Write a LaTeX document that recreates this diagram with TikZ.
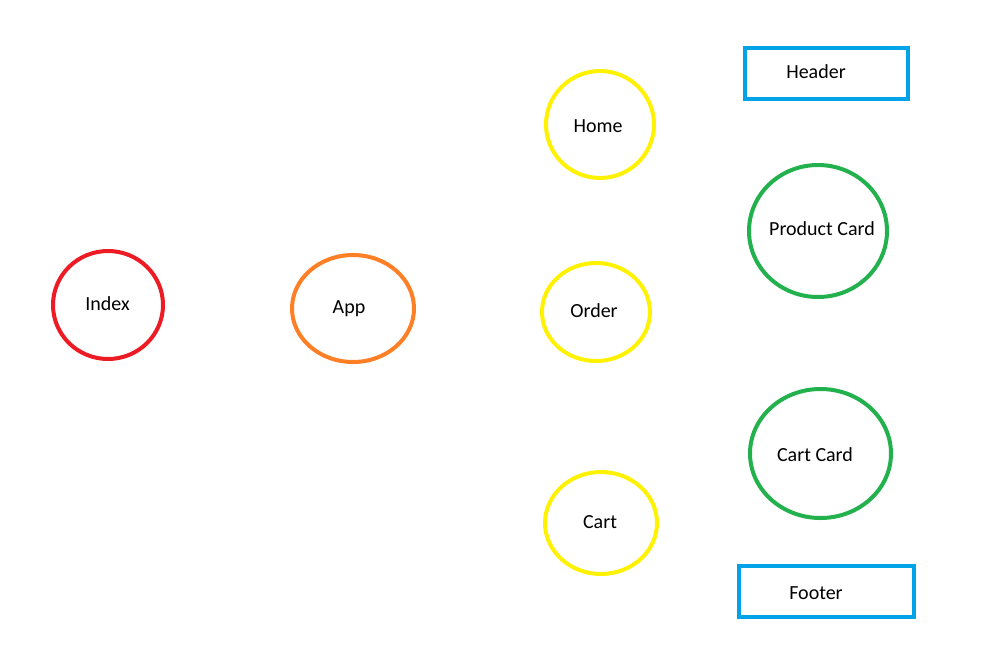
\documentclass[tikz,border=0pt]{standalone}
\usepackage{fontspec}
\setmainfont{Carlito}
\usetikzlibrary{shapes.geometric}
\definecolor{pred}{HTML}{ED1C24}
\definecolor{porange}{HTML}{FF7F27}
\definecolor{pyellow}{HTML}{FFF200}
\definecolor{pgreen}{HTML}{22B14C}
\definecolor{pblue}{HTML}{00A2E8}
\begin{document}
\begin{tikzpicture}[x=1pt,y=-1pt,
  oval/.style={ellipse,draw,line width=4pt,inner sep=0pt},
  box/.style={rectangle,draw=pblue,line width=4pt,inner sep=0pt},
  lbl/.style={inner sep=0pt,font=\fontsize{20}{24}\selectfont,text=black}]
\useasboundingbox[fill=white] (0,0) rectangle (998,648);
\node[oval,draw=pred,minimum width=110pt,minimum height=108pt] (index) at (108,305) {};
\node[oval,draw=porange,minimum width=122pt,minimum height=107pt] (app) at (353,308.5) {};
\node[oval,draw=pyellow,minimum width=108pt,minimum height=107pt] (home) at (600,124.5) {};
\node[oval,draw=pyellow,minimum width=108pt,minimum height=98pt] (order) at (596,312) {};
\node[oval,draw=pyellow,minimum width=112pt,minimum height=102pt] (cart) at (601,523) {};
\node[oval,draw=pgreen,minimum width=138pt,minimum height=132pt] (pcard) at (818,231) {};
\node[oval,draw=pgreen,minimum width=141pt,minimum height=129pt] (ccard) at (820.5,453.5) {};
\node[box,minimum width=163pt,minimum height=51pt] (header) at (826.5,73.5) {};
\node[box,minimum width=175pt,minimum height=51pt] (footer) at (826.5,591.5) {};
\node[lbl] (indexT) at ([xshift=-0.5pt,yshift=1pt]index.center) {Index};
\node[lbl] (appT) at ([xshift=-4pt,yshift=0pt]app.center) {App};
\node[lbl] (homeT) at ([xshift=-2pt,yshift=-1.5pt]home.center) {Home};
\node[lbl] (orderT) at ([xshift=-2pt,yshift=1pt]order.center) {Order};
\node[lbl] (cartT) at ([xshift=-1pt,yshift=1pt]cart.center) {Cart};
\node[lbl] (pcardT) at ([xshift=4pt,yshift=2pt]pcard.center) {Product Card};
\node[lbl] (ccardT) at ([xshift=-5.5pt,yshift=-1.5pt]ccard.center) {Cart Card};
\node[lbl] (headerT) at ([xshift=-10.5pt,yshift=1.5pt]header.center) {Header};
\node[lbl] (footerT) at ([xshift=-10.5pt,yshift=-1.5pt]footer.center) {Footer};
\end{tikzpicture}
\end{document}
